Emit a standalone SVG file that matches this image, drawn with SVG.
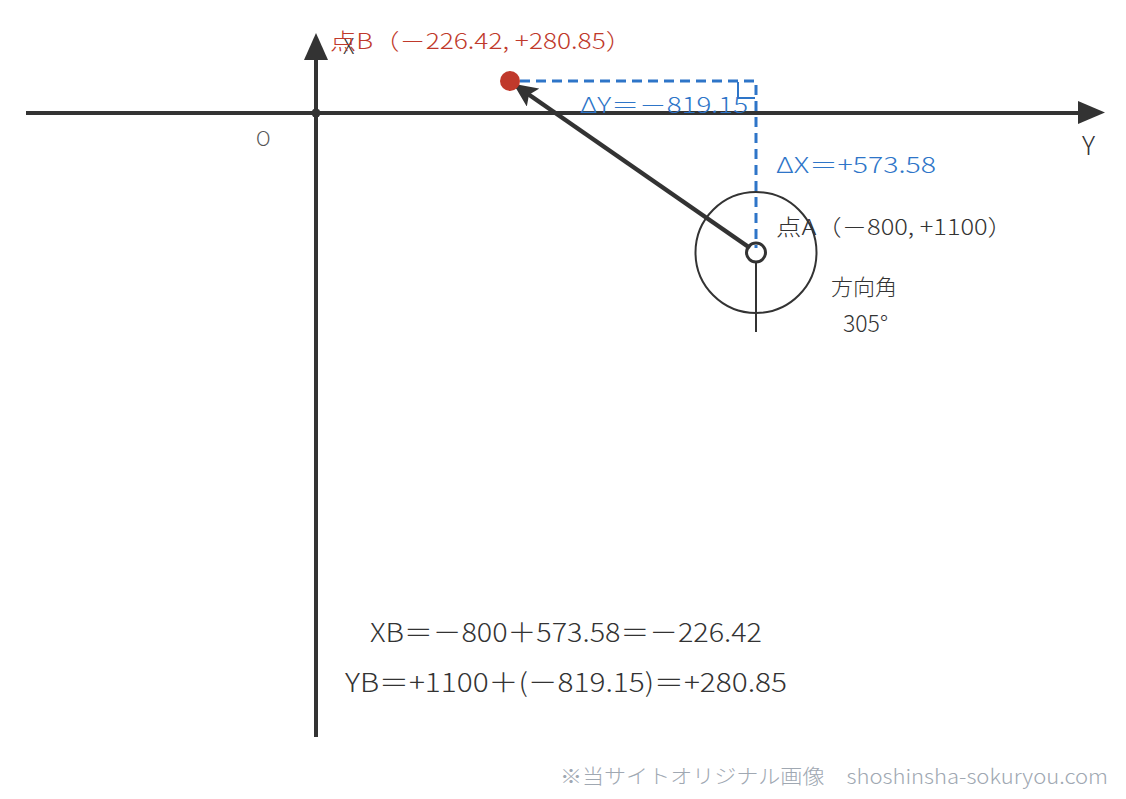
<svg xmlns="http://www.w3.org/2000/svg" width="1126" height="799" viewBox="0 0 1126 799">
<defs>
<style>
text{font-family:"Noto Sans CJK JP","Noto Sans",sans-serif;font-weight:300;}
.dark{fill:#333333;}
.red{fill:#c0392b;}
.blue{fill:#2e75c8;}
.gray{fill:#a0a8b2;}
.axis{stroke:#333333;stroke-width:4;fill:none;}
</style>
<marker id="ah" markerUnits="userSpaceOnUse" markerWidth="24" markerHeight="22" refX="22" refY="11" orient="auto">
<path d="M0,0 L24,11 L0,22 L5,11 Z" fill="#333333"/>
</marker>
</defs>
<rect width="1126" height="799" fill="#ffffff"/>
<g id="axes">
<line class="axis" x1="26" y1="113" x2="1080" y2="113"/>
<polygon points="1078,101 1105,112.5 1078,124" fill="#333333"/>
<line class="axis" x1="316" y1="737" x2="316" y2="58"/>
<polygon points="304,60 316,33 328,60" fill="#333333"/>
<circle cx="316" cy="113" r="4.5" fill="#333333"/>
<text class="dark" x="1082" y="155" font-size="26">Y</text>
<text class="dark" x="343" y="54" font-size="21">X</text>
<text x="256" y="146" font-size="20" fill="#555555">O</text>
</g>
<g id="connectors">
<path d="M520,81 H756 V248" fill="none" stroke="#2e75c8" stroke-width="3" stroke-dasharray="10,6"/>
<path d="M738,82 V98 H755" fill="none" stroke="#2e75c8" stroke-width="2"/>
<line x1="756" y1="262" x2="756" y2="332" stroke="#333333" stroke-width="2"/>
<line x1="750" y1="248" x2="515" y2="85" stroke="#333333" stroke-width="4.5" marker-end="url(#ah)"/>
</g>
<g id="pointA">
<circle cx="756" cy="252.5" r="60.5" fill="none" stroke="#333333" stroke-width="2"/>
<circle cx="756" cy="252.5" r="9.5" fill="none" stroke="#333333" stroke-width="3"/>
<text class="dark" x="776" y="235" font-size="22" textLength="237" lengthAdjust="spacingAndGlyphs">点A（－800, +1100）</text>
<text class="dark" x="831" y="295" font-size="22">方向角</text>
<text class="dark" x="843" y="332" font-size="23">305°</text>
</g>
<g id="pointB">
<circle cx="510" cy="81" r="10" fill="#c0392b"/>
<text class="red" x="330" y="49" font-size="22" textLength="302" lengthAdjust="spacingAndGlyphs">点B（－226.42, +280.85）</text>
</g>
<g id="deltas">
<text class="blue" x="580" y="113" font-size="22" textLength="168" lengthAdjust="spacingAndGlyphs">ΔY＝－819.15</text>
<text class="blue" x="776" y="173" font-size="22" textLength="160" lengthAdjust="spacingAndGlyphs">ΔX＝+573.58</text>
</g>
<g id="formulas">
<text class="dark" x="370" y="642" font-size="26" textLength="392" lengthAdjust="spacingAndGlyphs">XB＝－800＋573.58＝－226.42</text>
<text class="dark" x="345" y="692" font-size="26" textLength="442" lengthAdjust="spacingAndGlyphs">YB＝+1100＋(－819.15)＝+280.85</text>
</g>
<g id="footer">
<text class="gray" x="560" y="784" font-size="20" textLength="548" lengthAdjust="spacingAndGlyphs">※当サイトオリジナル画像　shoshinsha-sokuryou.com</text>
</g>
</svg>
